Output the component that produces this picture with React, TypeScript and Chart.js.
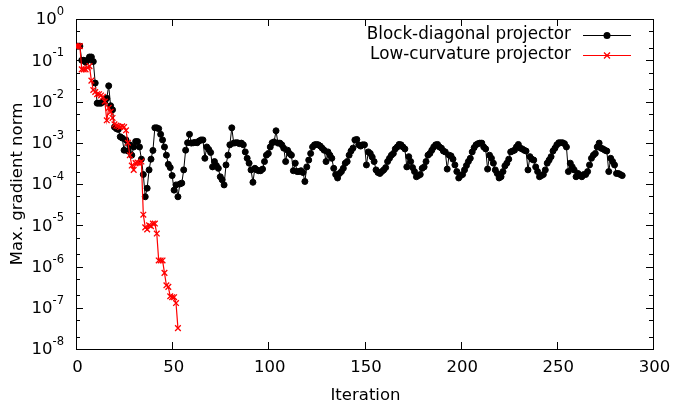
import { useEffect, useRef } from 'react';
import { Chart, registerables } from 'chart.js';

Chart.register(...registerables);

const seriesLabels = ['Block-diagonal projector', 'Low-curvature projector'];
const xTitle = 'Iteration';
const yTitle = 'Max. gradient norm';
const xTickValues = [0, 50, 100, 150, 200, 250, 300];
const yExponents = [0, -1, -2, -3, -4, -5, -6, -7, -8];
const yMinorFactors = [2, 5];

// Block-diagonal projector, one value per iteration starting at 0
const blockDiagonal = [
  0.22, 0.22, 0.22, 0.1, 0.1, 0.089, 0.1, 0.12, 0.12, 0.093,
  0.028, 0.0091, 0.0091, 0.0091, 0.01, 0.01, 0.012, 0.024, 0.0079, 0.0063,
  0.0024, 0.0022, 0.0021, 0.0014, 0.0013, 6.6e-4, 1.17e-3, 6.3e-4, 8.9e-4, 5.0e-4,
  7.9e-4, 1.07e-3, 1.07e-3, 7.9e-4, 4.0e-4, 1.7e-4, 4.9e-5, 7.9e-5, 2.2e-4, 4.0e-4,
  6.5e-4, 2.3e-3, 2.3e-3, 2.2e-3, 1.6e-3, 1.17e-3, 7.9e-4, 5.0e-4, 3.0e-4, 2.5e-4,
  1.6e-4, 7.1e-5, 9.5e-5, 4.9e-5, 1.0e-4, 1.05e-4, 2.2e-4, 6.6e-4, 1.0e-3, 1.6e-3,
  9.8e-4, 1.0e-3, 1.02e-3, 1.0e-3, 1.1e-3, 1.17e-3, 1.17e-3, 4.2e-4, 7.9e-4, 6.9e-4,
  5.8e-4, 2.6e-4, 3.5e-4, 2.8e-4, 2.4e-4, 1.5e-4, 1.26e-4, 9.5e-5, 2.9e-4, 5.0e-4,
  8.9e-4, 2.3e-3, 9.8e-4, 1.0e-3, 1.0e-3, 9.5e-4, 9.8e-4, 8.9e-4, 6.0e-4, 4.2e-4,
  3.2e-4, 2.2e-4, 1.1e-4, 2.4e-4, 2.2e-4, 2.1e-4, 2.1e-4, 2.3e-4, 3.5e-4, 5.0e-4,
  5.5e-4, 7.9e-4, 1.0e-3, 1.05e-3, 1.95e-3, 9.8e-4, 9.8e-4, 8.9e-4, 7.4e-4, 3.5e-4,
  6.6e-4, 5.5e-4, 5.0e-4, 2.1e-4, 3.2e-4, 2.0e-4, 2.0e-4, 2.1e-4, 1.9e-4, 1.15e-4,
  2.6e-4, 3.8e-4, 5.5e-4, 7.9e-4, 8.9e-4, 9.1e-4, 8.9e-4, 8.3e-4, 7.4e-4, 6.6e-4,
  3.5e-4, 6.0e-4, 5.0e-4, 4.2e-4, 2.4e-4, 1.7e-4, 1.4e-4, 1.8e-4, 2.0e-4, 2.4e-4,
  3.2e-4, 3.5e-4, 5.0e-4, 6.3e-4, 7.4e-4, 1.17e-3, 1.2e-3, 8.9e-4, 8.3e-4, 8.9e-4,
  8.9e-4, 2.9e-4, 6.0e-4, 5.5e-4, 4.5e-4, 3.5e-4, 2.2e-4, 1.9e-4, 1.8e-4, 2.0e-4,
  2.2e-4, 2.5e-4, 3.5e-4, 4.2e-4, 5.0e-4, 5.5e-4, 7.1e-4, 7.9e-4, 9.1e-4, 8.9e-4,
  7.9e-4, 7.1e-4, 2.6e-4, 4.6e-4, 3.5e-4, 2.5e-4, 2.0e-4, 1.5e-4, 1.6e-4, 1.7e-4,
  2.4e-4, 2.6e-4, 3.5e-4, 5.0e-4, 5.5e-4, 6.6e-4, 7.9e-4, 8.9e-4, 9.1e-4, 7.9e-4,
  7.4e-4, 6.3e-4, 6.0e-4, 2.3e-4, 5.0e-4, 4.8e-4, 4.0e-4, 2.9e-4, 2.0e-4, 1.4e-4,
  1.6e-4, 1.7e-4, 2.2e-4, 2.8e-4, 3.5e-4, 4.2e-4, 6.0e-4, 7.6e-4, 8.9e-4, 9.5e-4,
  9.8e-4, 9.8e-4, 7.9e-4, 7.1e-4, 2.3e-4, 5.0e-4, 4.2e-4, 3.2e-4, 2.2e-4, 1.8e-4,
  1.4e-4, 1.5e-4, 2.0e-4, 2.75e-4, 3.2e-4, 4.0e-4, 6.0e-4, 6.3e-4, 6.6e-4, 7.9e-4,
  9.1e-4, 7.4e-4, 7.1e-4, 6.6e-4, 6.3e-4, 2.2e-4, 4.6e-4, 4.0e-4, 3.8e-4, 2.6e-4,
  2.0e-4, 1.5e-4, 1.6e-4, 1.7e-4, 2.2e-4, 3.2e-4, 3.8e-4, 4.6e-4, 6.3e-4, 7.4e-4,
  8.9e-4, 1.0e-3, 1.0e-3, 1.0e-3, 9.5e-4, 7.9e-4, 2.0e-4, 3.2e-4, 2.6e-4, 2.2e-4,
  1.5e-4, 1.8e-4, 1.6e-4, 1.5e-4, 1.7e-4, 1.7e-4, 2.0e-4, 2.9e-4, 4.2e-4, 5.0e-4,
  5.5e-4, 7.9e-4, 9.8e-4, 7.4e-4, 7.1e-4, 6.6e-4, 6.3e-4, 2.0e-4, 4.2e-4, 3.5e-4,
  2.9e-4, 1.8e-4, 1.8e-4, 1.7e-4, 1.6e-4,
];

// Low-curvature projector, one value per iteration starting at 0
const lowCurvature = [
  0.22, 0.22, 0.22, 0.06, 0.06, 0.06, 0.066, 0.072, 0.032, 0.019,
  0.017, 0.015, 0.015, 0.014, 0.013, 0.01, 0.0035, 0.007, 0.0056, 0.004,
  0.0028, 0.0026, 0.0025, 0.0024, 0.0025, 0.0024, 0.002, 0.001, 5.0e-4, 2.8e-4,
  2.2e-4, 3.2e-4, 3.3e-4, 3.2e-4, 3.5e-4, 1.8e-5, 8.9e-6, 7.9e-6, 1.0e-5, 9.5e-6,
  1.1e-5, 1.1e-5, 6.3e-6, 1.4e-6, 1.4e-6, 1.4e-6, 7.0e-7, 3.5e-7, 3.2e-7, 1.9e-7,
  1.8e-7, 1.8e-7, 1.3e-7, 3.2e-8,
];

const FONT = "'DejaVu Sans', sans-serif";
const FS = 16.5;
const LEGEND_FS = 16.8;

const gnuplotFrame = {
  id: 'gnuplotFrame',
  beforeDatasetsDraw(chart: any) {
    const { ctx, chartArea, scales } = chart;
    const { left, right, top, bottom } = chartArea;
    const xs = scales.x;
    const ys = scales.y;
    const r = (v: number) => Math.round(v) + 0.5;
    ctx.save();
    ctx.strokeStyle = '#000';
    ctx.lineWidth = 1;
    ctx.beginPath();
    for (const v of xTickValues) {
      const px = r(xs.getPixelForValue(v));
      ctx.moveTo(px, bottom);
      ctx.lineTo(px, bottom - 7);
      ctx.moveTo(px, top);
      ctx.lineTo(px, top + 7);
    }
    for (const e of yExponents) {
      const py = r(ys.getPixelForValue(Math.pow(10, e)));
      ctx.moveTo(left, py);
      ctx.lineTo(left + 7, py);
      ctx.moveTo(right, py);
      ctx.lineTo(right - 7, py);
      if (e < 0) {
        for (const f of yMinorFactors) {
          const pm = r(ys.getPixelForValue(f * Math.pow(10, e)));
          ctx.moveTo(left, pm);
          ctx.lineTo(left + 4, pm);
          ctx.moveTo(right, pm);
          ctx.lineTo(right - 4, pm);
        }
      }
    }
    ctx.stroke();
    ctx.strokeRect(r(left), r(top), Math.round(right) - Math.round(left), Math.round(bottom) - Math.round(top));

    ctx.fillStyle = '#000';
    ctx.font = `${FS}px ${FONT}`;
    ctx.textAlign = 'center';
    ctx.textBaseline = 'middle';
    for (const v of xTickValues) {
      ctx.fillText(String(v), xs.getPixelForValue(v) + 1.5, bottom + 19);
    }
    const supFont = `${FS * 0.7}px ${FONT}`;
    const labelRight = left - 12;
    for (const e of yExponents) {
      const py = ys.getPixelForValue(Math.pow(10, e));
      const sup = String(e);
      ctx.font = supFont;
      const supW = ctx.measureText(sup).width;
      ctx.textAlign = 'left';
      ctx.fillText(sup, labelRight - supW, py - 7);
      ctx.font = `${FS}px ${FONT}`;
      ctx.textAlign = 'right';
      ctx.fillText('10', labelRight - supW, py + 1);
    }

    ctx.textAlign = 'center';
    ctx.fillText(xTitle, (left + right) / 2 + 1, bottom + 47);
    ctx.save();
    ctx.translate(18, (top + bottom) / 2);
    ctx.rotate(-Math.PI / 2);
    ctx.fillText(yTitle, 0, 0);
    ctx.restore();
    ctx.restore();
  },
  afterDraw(chart: any) {
    const { ctx } = chart;
    ctx.save();
    ctx.font = `${LEGEND_FS}px ${FONT}`;
    ctx.textAlign = 'right';
    ctx.textBaseline = 'middle';
    const rows = [
      { y: 35, color: '#000', marker: 'circle' },
      { y: 55, color: '#ff0000', marker: 'cross' },
    ];
    rows.forEach((row, i) => {
      const ds = chart.data.datasets[i];
      ctx.fillStyle = '#000';
      ctx.fillText(ds.label, 571, row.y);
      ctx.strokeStyle = row.color;
      ctx.fillStyle = row.color;
      ctx.lineWidth = 1;
      const ly = Math.round(row.y) + 0.5;
      ctx.beginPath();
      ctx.moveTo(583, ly);
      ctx.lineTo(631, ly);
      ctx.stroke();
      if (row.marker === 'circle') {
        ctx.beginPath();
        ctx.arc(607, ly, 3.5, 0, Math.PI * 2);
        ctx.fill();
      } else {
        ctx.lineWidth = 1.3;
        ctx.beginPath();
        ctx.moveTo(604, ly - 3);
        ctx.lineTo(610, ly + 3);
        ctx.moveTo(610, ly - 3);
        ctx.lineTo(604, ly + 3);
        ctx.stroke();
      }
    });
    ctx.restore();
  },
};

export default function App() {
  const ref = useRef<HTMLCanvasElement>(null);
  useEffect(() => {
    document.body.style.margin = '0';
    const chart = new Chart(ref.current!, {
      type: 'line',
      data: {
        datasets: [
          {
            label: seriesLabels[0],
            data: blockDiagonal.map((v, i) => ({ x: i, y: v })),
            borderColor: '#000000',
            backgroundColor: '#000000',
            borderWidth: 1,
            pointStyle: 'circle',
            pointRadius: 3,
            pointBorderWidth: 1,
            order: 1,
          },
          {
            label: seriesLabels[1],
            data: lowCurvature.map((v, i) => ({ x: i, y: v })),
            borderColor: '#ff0000',
            backgroundColor: '#ff0000',
            borderWidth: 1.2,
            pointStyle: 'crossRot',
            pointRadius: 4,
            pointBorderWidth: 1.3,
            order: 0,
          },
        ],
      },
      options: {
        animation: false,
        responsive: false,
        events: [],
        layout: { padding: { left: 76, right: 34, top: 19, bottom: 54 } },
        plugins: { legend: { display: false }, tooltip: { enabled: false } },
        scales: {
          x: { type: 'linear', min: 0, max: 300, display: false },
          y: { type: 'logarithmic', min: 1e-8, max: 1, display: false },
        },
      },
      plugins: [gnuplotFrame],
    });
    return () => chart.destroy();
  }, []);
  return <canvas ref={ref} width={687} height={403} style={{ display: 'block' }} />;
}
